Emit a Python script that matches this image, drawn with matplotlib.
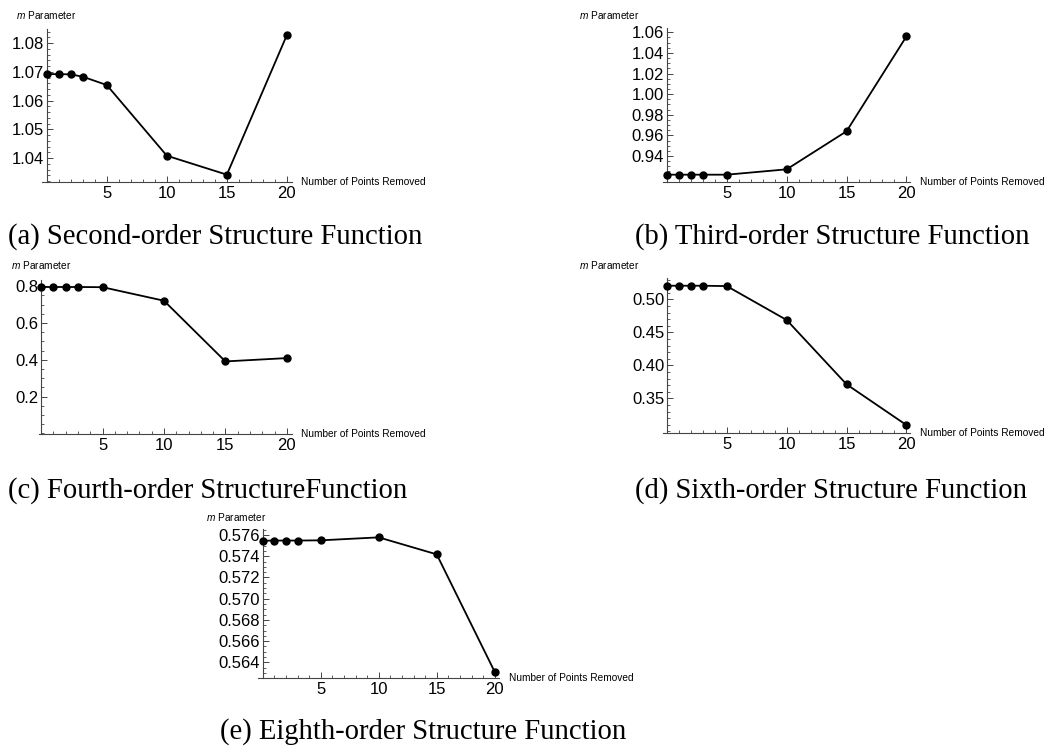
import numpy as np
import matplotlib
matplotlib.use('Agg')
import matplotlib.pyplot as plt
from matplotlib.ticker import AutoMinorLocator, FixedLocator, MultipleLocator

plt.rcParams['font.family'] = 'Liberation Sans'
plt.rcParams['mathtext.fontset'] = 'custom'
plt.rcParams['mathtext.rm'] = 'Liberation Sans'
plt.rcParams['mathtext.it'] = 'Liberation Sans:italic'

# number of points removed (shared by every panel)
points_removed = [0, 1, 2, 3, 5, 10, 15, 20]
x_ticks = [5, 10, 15, 20]

# fitted m parameter for each structure function order
m_second = [1.0692, 1.0692, 1.0691, 1.0683, 1.0654, 1.0408, 1.0342, 1.0828]
m_third = [0.9219, 0.9219, 0.9219, 0.9219, 0.9219, 0.9271, 0.9640, 1.0560]
m_fourth = [0.795, 0.795, 0.795, 0.795, 0.794, 0.7205, 0.391, 0.409]
m_sixth = [0.5206, 0.5206, 0.5206, 0.5206, 0.5200, 0.4686, 0.3712, 0.3095]
m_eighth = [0.57546, 0.57548, 0.57548, 0.57548, 0.57550, 0.57578, 0.57418, 0.56311]

# labelled y ticks per panel
yt_second = [1.04, 1.05, 1.06, 1.07, 1.08]
yt_third = [0.94, 0.96, 0.98, 1.00, 1.02, 1.04, 1.06]
yt_fourth = [0.2, 0.4, 0.6, 0.8]
yt_sixth = [0.35, 0.40, 0.45, 0.50]
yt_eighth = [0.564, 0.566, 0.568, 0.570, 0.572, 0.574, 0.576]

captions = ["(a) Second-order Structure Function",
            "(b) Third-order Structure Function",
            "(c) Fourth-order StructureFunction",
            "(d) Sixth-order Structure Function",
            "(e) Eighth-order Structure Function"]

W, H = 1056, 750
fig = plt.figure(figsize=(W / 100, H / 100), dpi=100)


def px_axes(left, top, right, bottom):
    return fig.add_axes([left / W, 1 - bottom / H, (right - left) / W, (bottom - top) / H])


def make_panel(box, xlim, ylim, yvals, yticks, ndec, label_pos, cap_pos, caption):
    ax = px_axes(*box)
    ax.plot(points_removed, yvals, color='black', lw=1.3, marker='o', ms=5,
            clip_on=False, zorder=3)
    ax.set_xlim(*xlim)
    ax.set_ylim(*ylim)
    for s in ['top', 'right']:
        ax.spines[s].set_visible(False)
    ax.spines['left'].set_position(('data', 0))
    for s in ['left', 'bottom']:
        ax.spines[s].set_color('#444444')
        ax.spines[s].set_linewidth(0.8)

    ax.set_xticks(x_ticks)
    ax.set_xticklabels([str(v) for v in x_ticks])
    ax.xaxis.set_minor_locator(MultipleLocator(1))
    ax.set_yticks(yticks)
    ax.set_yticklabels([f'{v:.{ndec}f}' for v in yticks])
    ax.yaxis.set_minor_locator(AutoMinorLocator())
    ax.tick_params(which='both', direction='in', color='#444444', labelsize=12)
    ax.tick_params(which='major', length=4.5, width=0.7)
    ax.tick_params(which='minor', length=2.2, width=0.6)
    ax.tick_params(axis='x', pad=3)
    ax.tick_params(axis='y', pad=2)

    ax.annotate('Number of Points Removed', xy=(1, 0), xycoords='axes fraction',
                xytext=(7, 0), textcoords='offset points', ha='left', va='center',
                fontsize=7.3)
    fig.text(label_pos[0] / W, 1 - label_pos[1] / H, r'$m$ Parameter',
             fontsize=7.3, ha='left', va='center')
    fig.text(cap_pos[0] / W, 1 - cap_pos[1] / H, caption, family='Liberation Serif',
             fontsize=20.6, ha='left', va='center')
    return ax


make_panel((41.7, 29, 291.7, 182), (-0.42, 20.4), (1.03165, 1.0849), m_second, yt_second, 2,
           (16, 15), (8, 237), captions[0])
make_panel((662.7, 28, 910, 182), (-0.36, 20.3), (0.9148, 1.0642), m_third, yt_third, 2,
           (579, 15), (635, 237), captions[1])
make_panel((39.3, 280, 291.7, 434), (-0.15, 20.4), (-0.003, 0.833), m_fourth, yt_fourth, 1,
           (11, 265), (8, 491), captions[2])
make_panel((662.7, 278, 910, 432.7), (-0.36, 20.3), (0.2979, 0.5323), m_sixth, yt_sixth, 2,
           (579, 265), (635, 491), captions[3])
make_panel((258.3, 529.3, 499, 678.3), (-0.38, 20.37), (0.5625, 0.57654), m_eighth, yt_eighth, 3,
           (206, 516.7), (220, 731.7), captions[4])

fig.savefig('out.png', dpi=100)
